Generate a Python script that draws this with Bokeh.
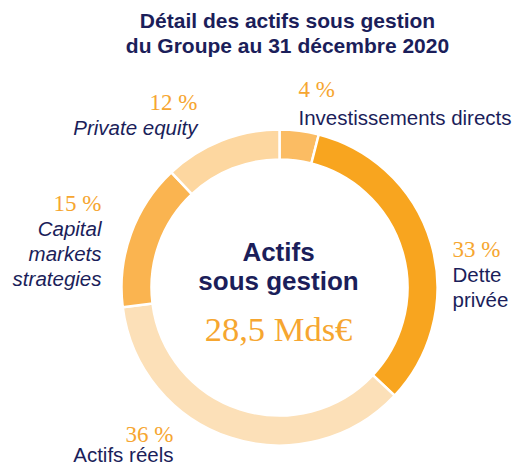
from bokeh.plotting import figure
from bokeh.models import Range1d, Label, ColumnDataSource
from bokeh.embed import file_html
from bokeh.resources import INLINE
import math

# ---- data ----
categories = ["Investissements directs", "Dette privée", "Actifs réels",
              "Capital markets strategies", "Private equity"]
values = [4, 33, 36, 15, 12]
total_label = "28,5 Mds€"
colors = ["#FBBC63", "#F8A51F", "#FCE0B8", "#FAB450", "#FDD7A0"]

NAVY = "#1B1E5A"
ORANGE = "#F6A630"
SANS = "Liberation Sans"
SERIF = "Liberation Serif"

TOP = 8
W, H = 524, 475 - TOP
WIN_H = 475

# data coordinates == window pixel coordinates (y measured upward)
p = figure(width=W, height=H, output_backend="svg", toolbar_location=None,
           x_range=Range1d(0, W), y_range=Range1d(0, H),
           min_border=0, outline_line_color=None)
p.axis.visible = False
p.grid.visible = False
p.background_fill_color = "white"


def Y(sy):
    return WIN_H - sy

# donut
cx, cy = 279, Y(295)
tot = sum(values)
starts, ends = [], []
acc = 0
for v in values:
    starts.append(math.pi / 2 - 2 * math.pi * acc / tot)
    acc += v
    ends.append(math.pi / 2 - 2 * math.pi * acc / tot)
src = ColumnDataSource(dict(start=starts, end=ends, color=colors, cat=categories))
p.annular_wedge(x=cx, y=cy, inner_radius=128, outer_radius=158,
                start_angle="start", end_angle="end", direction="clock",
                fill_color="color", line_color="white", line_width=2.5, source=src)


def lab(text, x, sy, size, align="left", font=SANS, style="normal", color=NAVY):
    p.add_layout(Label(x=x, y=Y(sy), text=text, text_font=font,
                       text_font_size=f"{size}px", text_font_style=style,
                       text_color=color, text_align=align,
                       text_baseline="alphabetic"))

# title
lab("Détail des actifs sous gestion", 287, 28, 21, "center", style="bold")
lab("du Groupe au 31 décembre 2020", 287, 53, 21, "center", style="bold")

# center
lab("Actifs", 278, 259, 26, "center", style="bold")
lab("sous gestion", 278, 288, 26, "center", style="bold")
lab(total_label, 278, 336, 34.5, "center", font=SERIF, color=ORANGE)

pct = [f"{v} %" for v in values]
# Investissements directs
lab(pct[0], 298, 97, 23, "left", font=SERIF, color=ORANGE)
lab("Investissements directs", 298, 125, 20.5, "left")
# Dette privée
lab(pct[1], 452, 257, 23, "left", font=SERIF, color=ORANGE)
lab("Dette", 452, 282, 20.5, "left")
lab("privée", 452, 307, 20.5, "left")
# Actifs réels
lab(pct[2], 173, 442, 23, "right", font=SERIF, color=ORANGE)
lab("Actifs réels", 173, 462, 20.5, "right")
# Capital markets strategies
lab(pct[3], 101, 211, 23, "right", font=SERIF, color=ORANGE)
lab("Capital", 101, 236, 20.5, "right", style="italic")
lab("markets", 101, 261, 20.5, "right", style="italic")
lab("strategies", 101, 286, 20.5, "right", style="italic")
# Private equity
lab(pct[4], 197, 110, 23, "right", font=SERIF, color=ORANGE)
lab("Private equity", 197, 135, 20.5, "right", style="italic")

open("out.html", "w").write(file_html(p, INLINE))
